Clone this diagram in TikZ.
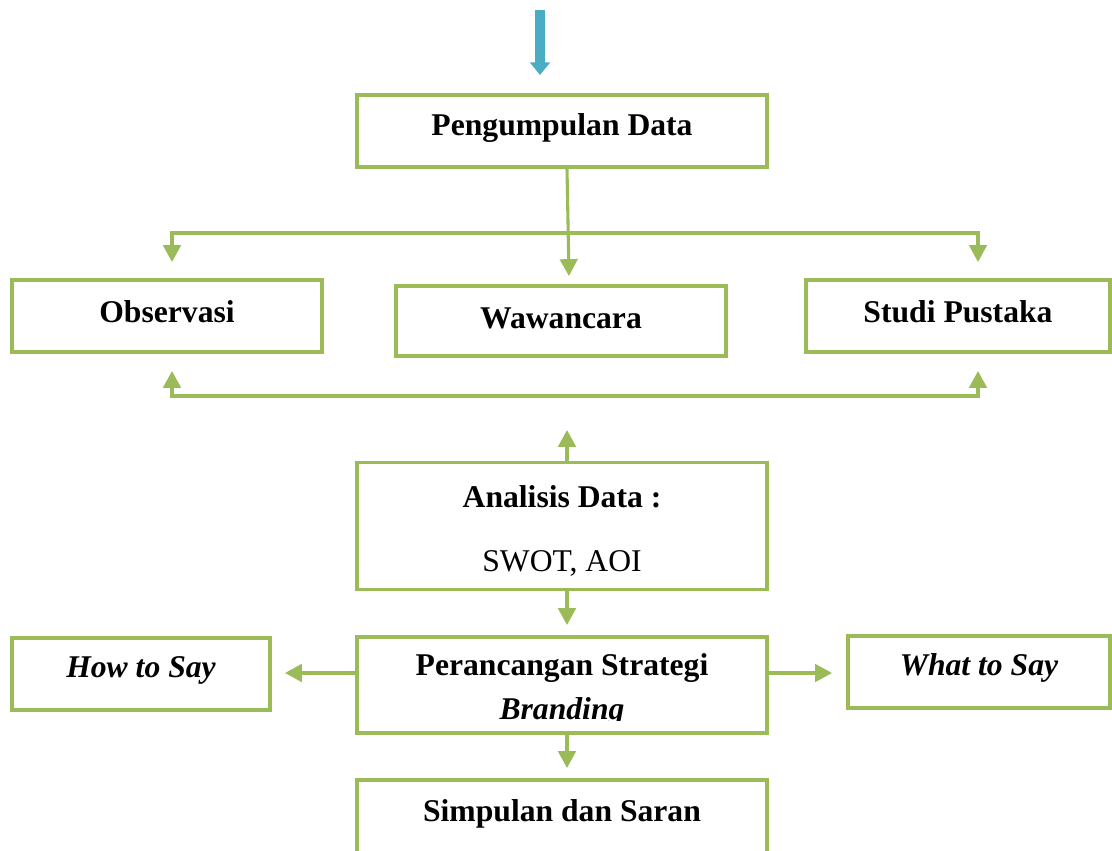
\documentclass[tikz,border=0pt]{standalone}
\usepackage{fontspec}
\setmainfont{Liberation Serif}
\usetikzlibrary{positioning}
\usetikzlibrary{arrows.meta}
\definecolor{olivegreen}{RGB}{155,187,89}
\definecolor{aquablue}{RGB}{75,172,198}

\tikzset{
  box/.style={draw=olivegreen, line width=2.2pt, minimum width=#1, inner sep=0pt},
  box/.default=410,
  link/.style={draw=olivegreen, line width=2.2pt, -{Triangle[width=12.5pt,length=12pt]}},
  plain/.style={draw=olivegreen, line width=2.2pt},
  label/.style={font=\fontsize{22.5}{27}\selectfont\bfseries},
}

\begin{document}
\begin{tikzpicture}[x=0.025cm, y=-0.025cm]
\useasboundingbox (0,0) rectangle (1112,850);

% boxes
\node[box=310*0.025cm, minimum height=72*0.025cm] (observasi) at (167,316) {};
\node[box=410*0.025cm, minimum height=72*0.025cm] (pengumpulan) at (562,131) {};
\node[box=330*0.025cm, minimum height=70*0.025cm] (wawancara) at (561,321) {};
\node[box=304*0.025cm, minimum height=72*0.025cm] (studi) at (958,316) {};
\node[box=410*0.025cm, minimum height=127*0.025cm] (analisis) at (562,526) {};
\node[box=410*0.025cm, minimum height=96*0.025cm] (perancangan) at (562,685) {};
\node[box=258*0.025cm, minimum height=72*0.025cm] (howto) at (141,674) {};
\node[box=262*0.025cm, minimum height=72*0.025cm] (whatto) at (979,672) {};
\node[box=410*0.025cm, minimum height=110*0.025cm] (simpulan) at (562,835) {};

% texts
\node[label] at (562,128) {Pengumpulan Data};
\node[label] at (167,312) {Observasi};
\node[label] at (561,318) {Wawancara};
\node[label] at (958,312) {Studi Pustaka};
\node[label] at (562,497) {Analisis Data :};
\node[font=\fontsize{22.5}{27}\selectfont] at (562,563) {SWOT, AOI};
\node[label] at (562,668) {Perancangan Strategi};
\begin{scope}
\clip (360,690) rectangle (764,720);
\node[font=\fontsize{22.5}{27}\selectfont\bfseries\itshape] at (562,712) {Branding};
\end{scope}
\node[font=\fontsize{22.5}{27}\selectfont\bfseries\itshape] at (141,670) {How to Say};
\node[font=\fontsize{22.5}{27}\selectfont\bfseries\itshape] at (979,668) {What to Say};
\node[label] at (562,814) {Simpulan dan Saran};

% top arrow
\coordinate (start) at (540,10);
\draw[aquablue, line width=7pt, -{Triangle[width=14pt,length=9pt]}] (start) -- (540,75);

% connectors
\coordinate (splitL) at (172,233);
\coordinate (splitR) at (978,233);
\coordinate (joinL) at (172,396);
\coordinate (joinR) at (978,396);
\draw[link] (pengumpulan.south -| 567,0) -- (569,276);
\draw[plain] (splitL) -- (splitR);
\draw[link] ([yshift=1.1pt]splitL) -- (172,262);
\draw[link] ([yshift=1.1pt]splitR) -- (978,262);
\draw[plain] (joinL) -- (joinR);
\draw[link] ([yshift=-1.1pt]joinL) -- (172,371);
\draw[link] ([yshift=-1.1pt]joinR) -- (978,371);
\draw[link] (analisis.north -| 567,0) -- (567,430);
\draw[link] (analisis.south -| 567,0) -- (567,625);
\draw[link] (perancangan.west |- 0,673) -- (285,673);
\draw[link] (perancangan.east |- 0,673) -- (832,673);
\draw[link] (perancangan.south -| 567,0) -- (567,768);

\end{tikzpicture}
\end{document}
